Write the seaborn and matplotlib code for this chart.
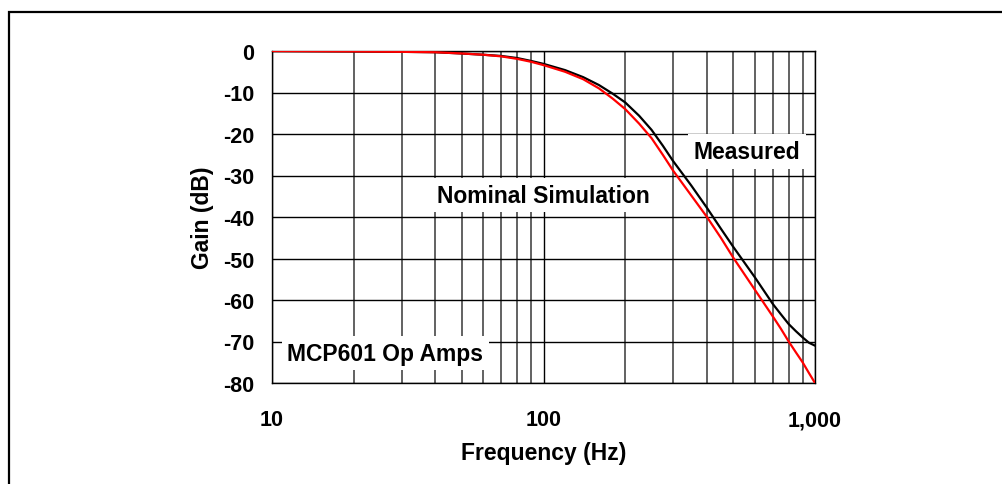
import matplotlib

matplotlib.use("Agg")

import matplotlib.pyplot as plt
import pandas as pd
import seaborn as sns
from matplotlib.patches import Rectangle
from matplotlib.ticker import FixedLocator, LogLocator, NullFormatter

# frequency points (Hz)
freq = [10, 20, 30, 40, 50, 60, 70, 80, 90, 100, 120, 140, 160, 180, 200,
        225, 250, 275, 300, 350, 400, 450, 500, 600, 700, 750, 800, 850,
        900, 950, 1000]

nominal_db = [0.0, -0.1, -0.2, -0.3, -0.6, -0.9, -1.3, -1.9, -2.6, -3.4,
              -5.0, -6.8, -9.0, -11.5, -14.0, -17.5, -21.0, -25.0, -28.8,
              -34.8, -40.0, -45.0, -49.8, -57.5, -64.0, -67.0, -70.0,
              -72.6, -75.0, -77.6, -80.0]

measured_db = [0.0, -0.1, -0.2, -0.3, -0.6, -0.9, -1.2, -1.7, -2.4, -3.1,
               -4.6, -6.3, -8.2, -10.3, -12.4, -15.6, -19.0, -22.8, -26.5,
               -32.4, -37.8, -42.8, -47.2, -54.5, -61.0, -63.5, -65.8,
               -67.5, -69.0, -70.3, -71.0]

y_ticks = [0, -10, -20, -30, -40, -50, -60, -70, -80]
y_tick_labels = ["0", "-10", "-20", "-30", "-40", "-50", "-60", "-70", "-80"]
x_ticks = [10, 100, 1000]
x_tick_labels = ["10", "100", "1,000"]

sns.set_style("white")
plt.rcParams["font.family"] = ["Liberation Sans", "DejaVu Sans"]
plt.rcParams["font.weight"] = "bold"
plt.rcParams["text.color"] = "black"
plt.rcParams["axes.labelcolor"] = "black"
plt.rcParams["xtick.color"] = "black"
plt.rcParams["ytick.color"] = "black"

df = pd.DataFrame({
    "freq": freq * 2,
    "gain": measured_db + nominal_db,
    "series": ["Measured"] * len(freq) + ["Nominal Simulation"] * len(freq),
})

fig = plt.figure(figsize=(10.02, 4.85), dpi=100)
ax = fig.add_axes([272 / 1002, 1 - 384 / 485, (815 - 272) / 1002, (384 - 52) / 485])

sns.lineplot(
    data=df, x="freq", y="gain", hue="series",
    palette={"Measured": "black", "Nominal Simulation": "#ff0000"},
    hue_order=["Measured", "Nominal Simulation"],
    linewidth=1.6, legend=False, ax=ax, zorder=4,
)

ax.set_xscale("log")
ax.set_xlim(10, 1000)
ax.set_ylim(-80, 0)

ax.xaxis.set_major_locator(FixedLocator(x_ticks))
ax.set_xticklabels(x_tick_labels)
ax.xaxis.set_minor_locator(LogLocator(base=10, subs=range(2, 10)))
ax.xaxis.set_minor_formatter(NullFormatter())
ax.set_yticks(y_ticks)
ax.set_yticklabels(y_tick_labels)

ax.grid(which="major", color="black", linewidth=1.0, zorder=1)
ax.grid(which="minor", axis="x", color="#555555", linewidth=1.3, zorder=1)
ax.set_axisbelow(True)

ax.tick_params(axis="both", which="major", direction="out", length=5,
               width=1, color="black", labelsize=15.5, labelcolor="black")
ax.tick_params(axis="y", pad=8)
ax.tick_params(axis="x", pad=14)
ax.tick_params(axis="x", which="minor", length=0)
for lab in ax.get_xticklabels() + ax.get_yticklabels():
    lab.set_fontweight("bold")

for sp in ax.spines.values():
    sp.set_color("black")
    sp.set_linewidth(1.0)

ax.set_xlabel("Frequency (Hz)", fontsize=16.5, fontweight="bold", labelpad=8,
              color="black")
ax.set_ylabel("Gain (dB)", fontsize=16.5, fontweight="bold", labelpad=6,
              color="black")

box = dict(boxstyle="square,pad=0.25", facecolor="white", edgecolor="none")
ax.text(0.875, 0.697, "Measured", transform=ax.transAxes, ha="center",
        va="center", fontsize=16.5, fontweight="bold", bbox=box, zorder=3)
ax.text(0.5, 0.566, "Nominal Simulation", transform=ax.transAxes,
        ha="center", va="center", fontsize=16.5, fontweight="bold",
        bbox=box, zorder=3)
ax.text(0.209, 0.09, "MCP601 Op Amps", transform=ax.transAxes, ha="center",
        va="center", fontsize=16.5, fontweight="bold", bbox=box, zorder=3)

# outer frame (right and bottom edges fall outside the image)
fig.patches.append(Rectangle((9 / 1002, -0.2), 1.2, 1.2 - 13 / 485,
                             transform=fig.transFigure, fill=False,
                             edgecolor="black", linewidth=1.6))

fig.savefig("out.png", dpi=100)
